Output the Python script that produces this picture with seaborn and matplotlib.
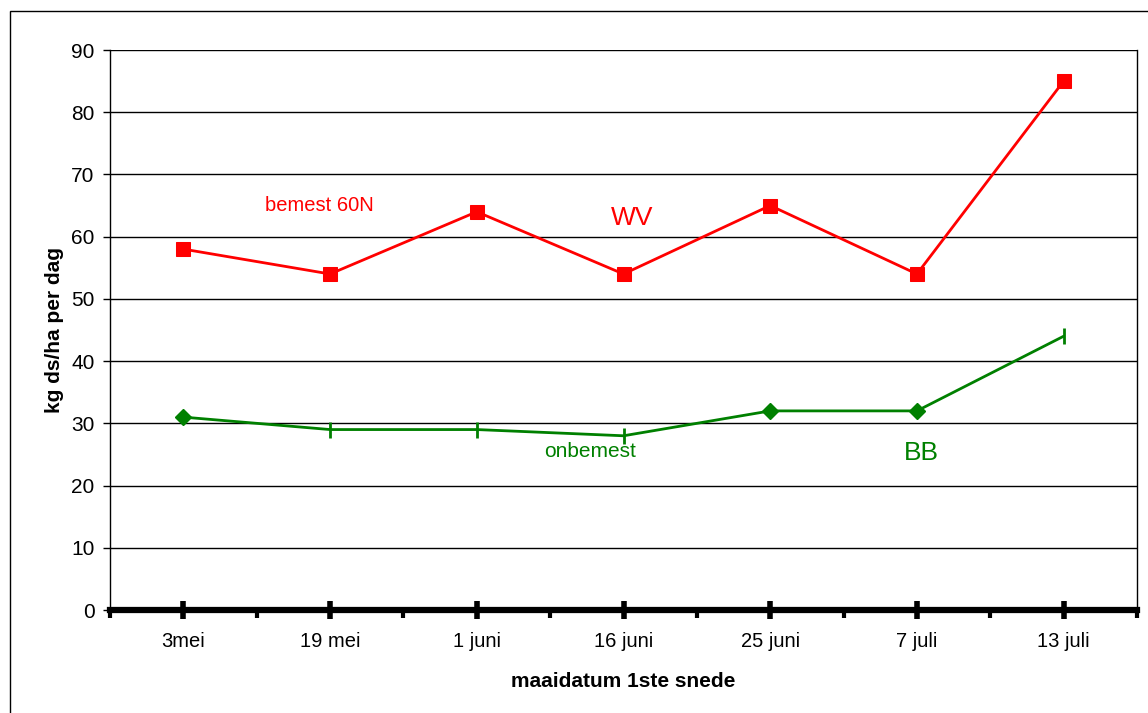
import matplotlib
matplotlib.use("Agg")
import matplotlib.pyplot as plt
import seaborn as sns
import pandas as pd
import numpy as np
from matplotlib.patches import Rectangle

categories = ["3mei", "19 mei", "1 juni", "16 juni", "25 juni", "7 juli", "13 juli"]
bemest = [58, 54, 64, 54, 65, 54, 85]
onbemest = [31, 29, 29, 28, 32, 32, 44]
zero_line = [0, 0, 0, 0, 0, 0, 0]
green_diamond_idx = [0, 4, 5]
green_bar_idx = [1, 2, 3, 6]
yticks = [0, 10, 20, 30, 40, 50, 60, 70, 80, 90]

sns.set_theme(style="white")
plt.rcParams['font.family'] = ['Liberation Sans', 'DejaVu Sans']
plt.rcParams['text.color'] = 'black'
plt.rcParams['xtick.color'] = 'black'
plt.rcParams['ytick.color'] = 'black'
plt.rcParams['axes.labelcolor'] = 'black'

fig = plt.figure(figsize=(11.48, 7.13), dpi=100)
ax = fig.add_axes([110/1148, 1-610/713, (1137-110)/1148, (610-50)/713])

pos = np.arange(len(categories))
df = pd.DataFrame({"pos": pos, "bemest": bemest, "onbemest": onbemest, "zero": zero_line})

for y in yticks[1:]:
    ax.axhline(y, color="black", lw=1.0, zorder=1)

RED = "#ff0000"
GREEN = "#008000"
sns.lineplot(data=df, x="pos", y="bemest", color=RED, lw=2, marker="s", markersize=10,
             markeredgecolor=RED, ax=ax, zorder=4)
sns.lineplot(data=df, x="pos", y="onbemest", color=GREEN, lw=2, ax=ax, zorder=4)
dd = df.iloc[green_diamond_idx]
ax.plot(dd["pos"], dd["onbemest"], ls="none", marker="D", markersize=8, color=GREEN, zorder=5)
db = df.iloc[green_bar_idx]
ax.plot(db["pos"], db["onbemest"], ls="none", marker="|", markersize=12, mew=2, color=GREEN, zorder=5)

# zero series markers on the thick axis
ax.plot(df["pos"], df["zero"], ls="none", color="black", marker="|", markersize=13, mew=4,
        zorder=6, clip_on=False)

ax.set_xlim(-0.5, len(categories) - 0.5)
ax.set_ylim(0, 90)
ax.set_yticks(yticks)
ax.set_yticklabels([str(v) for v in yticks], fontsize=15)
ax.set_xticks(pos)
ax.set_xticklabels(categories, fontsize=14.5)
ax.tick_params(axis="x", which="major", length=0, pad=16, bottom=True)
ax.set_xticks(np.arange(-0.5, len(categories)), minor=True)
ax.tick_params(axis="x", which="minor", length=6, width=3, color="black", direction="out", bottom=True)
ax.tick_params(axis="y", length=5, width=1, color="black", direction="out", left=True, pad=6)

for s in ["left", "right"]:
    ax.spines[s].set_visible(True)
    ax.spines[s].set_color("black")
    ax.spines[s].set_linewidth(1)
ax.spines["top"].set_visible(False)
ax.spines["bottom"].set_visible(True)
ax.spines["bottom"].set_color("black")
ax.spines["bottom"].set_linewidth(4.5)
ax.spines["bottom"].set_zorder(6)

ax.set_ylabel("kg ds/ha per dag", fontsize=15, fontweight="bold", labelpad=5)
ax.set_xlabel("maaidatum 1ste snede", fontsize=15, fontweight="bold", labelpad=15)

ax.text(0.93, 65.0, "bemest 60N", color=RED, fontsize=14.5, ha="center", va="center")
ax.text(3.06, 63.0, "WV", color=RED, fontsize=19, ha="center", va="center")
ax.text(2.77, 25.5, "onbemest", color=GREEN, fontsize=15, ha="center", va="center")
ax.text(5.03, 25.3, "BB", color=GREEN, fontsize=19, ha="center", va="center")

fig.patches.append(Rectangle((10/1148, -0.1), 1.2, 1 - 11/713 + 0.1, transform=fig.transFigure,
                             fill=False, edgecolor="black", lw=1))

fig.savefig("out.png", dpi=100)
